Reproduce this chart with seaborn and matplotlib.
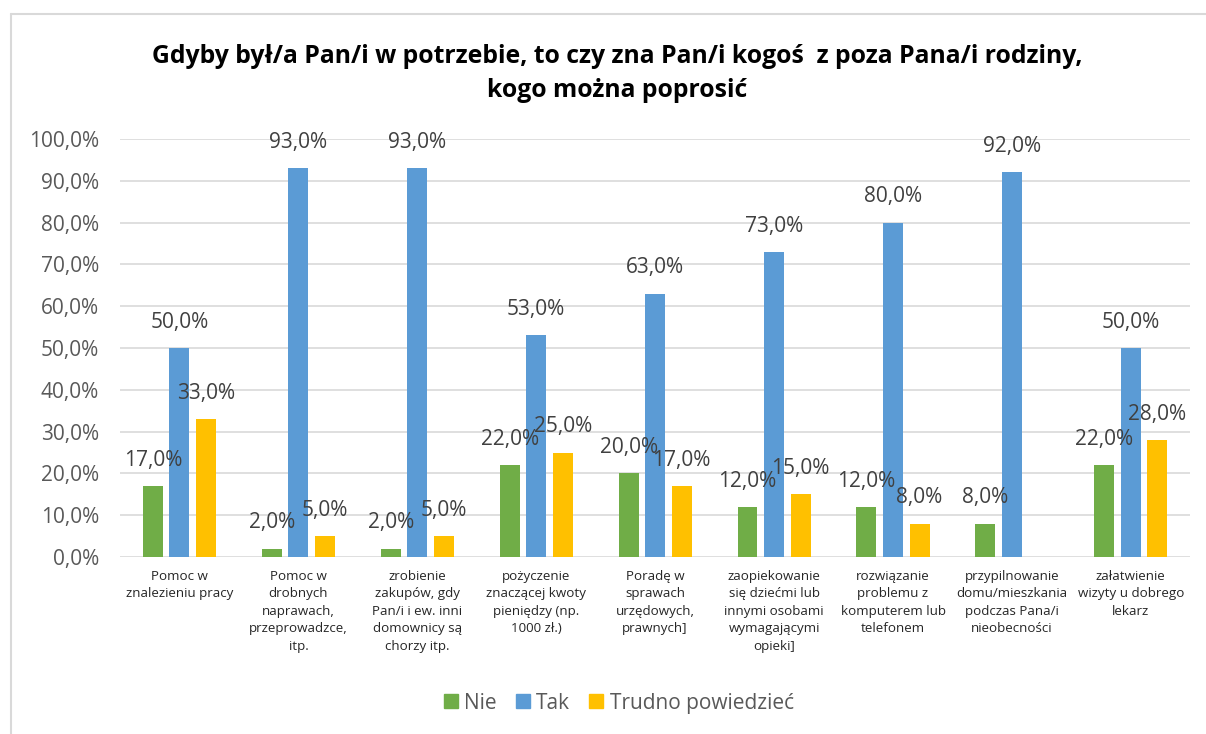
import matplotlib
matplotlib.use("Agg")
import matplotlib.pyplot as plt
from matplotlib.lines import Line2D
from matplotlib.ticker import FuncFormatter
import numpy as np
import pandas as pd
import seaborn as sns

categories = [
    "Pomoc w\nznalezieniu pracy",
    "Pomoc w\ndrobnych\nnaprawach,\nprzeprowadzce,\nitp.",
    "zrobienie\nzakupów, gdy\nPan/i i ew. inni\ndomownicy są\nchorzy itp.",
    "pożyczenie\nznaczącej kwoty\npieniędzy (np.\n1000 zł.)",
    "Poradę w\nsprawach\nurzędowych,\nprawnych]",
    "zaopiekowanie\nsię dziećmi lub\ninnymi osobami\nwymagającymi\nopieki]",
    "rozwiązanie\nproblemu z\nkomputerem lub\ntelefonem",
    "przypilnowanie\ndomu/mieszkania\npodczas Pana/i\nnieobecności",
    "załatwienie\nwizyty u dobrego\nlekarz",
]
series = ["Nie", "Tak", "Trudno powiedzieć"]
nie = [17, 2, 2, 22, 20, 12, 12, 8, 22]
tak = [50, 93, 93, 53, 63, 73, 80, 92, 50]
trudno = [33, 5, 5, 25, 17, 15, 8, np.nan, 28]
palette = ["#70AD47", "#5B9BD5", "#FFC000"]
title = "Gdyby był/a Pan/i w potrzebie, to czy zna Pan/i kogoś  z poza Pana/i rodziny,\nkogo można poprosić"

df = pd.DataFrame({
    "kategoria": categories * 3,
    "seria": sum([[s] * len(categories) for s in series], []),
    "wartosc": nie + tak + trudno,
})

sns.set_theme(style="white")
plt.rcParams["font.family"] = ["Open Sans", "DejaVu Sans"]

fig = plt.figure(figsize=(12.06, 7.34), dpi=100)
ax = fig.add_axes([0.0995, 0.2411, 0.8875, 0.5695])

sns.barplot(
    data=df, x="kategoria", y="wartosc", hue="seria",
    order=categories, hue_order=series, palette=palette,
    width=0.67, gap=0.25, saturation=1, linewidth=0, ax=ax, legend=False,
)

ax.set_ylim(0, 100)
ax.set_xlim(-0.5, len(categories) - 0.5)
ax.set_yticks(np.arange(0, 101, 10))
ax.yaxis.set_major_formatter(FuncFormatter(lambda v, _: f"{v:.1f}%".replace(".", ",")))
ax.grid(axis="y", color="#D9D9D9", linewidth=1.2)
ax.set_axisbelow(True)
for s in ax.spines.values():
    s.set_visible(False)
ax.tick_params(axis="y", labelsize=15, labelcolor="#595959", length=0, pad=15)
ax.tick_params(axis="x", labelsize=9.6, labelcolor="#262626", length=0, pad=9)
for lbl in ax.get_xticklabels():
    lbl.set_linespacing(1.45)
    lbl.set_verticalalignment("top")
ax.set_xlabel("")
ax.set_ylabel("")

for cont in ax.containers:
    labels = ["" if np.isnan(v) else f"{v:.1f}%".replace(".", ",") for v in cont.datavalues]
    ax.bar_label(cont, labels=labels, padding=11, fontsize=15, color="#404040")

handles = [Line2D([0], [0], marker="s", linestyle="", markersize=10,
                  markerfacecolor=c, markeredgecolor=c) for c in palette]
fig.legend(handles, series, loc="center", bbox_to_anchor=(0.513, 0.042), ncol=3,
           frameon=False, fontsize=15, labelcolor="#595959",
           handlelength=0.7, handletextpad=0.3, columnspacing=0.9)

fig.text(0.512, 0.9, title, ha="center", va="center", fontsize=17.8,
         fontweight="bold", color="#000000", linespacing=1.5)

# frame around the chart area
fig.add_artist(Line2D([0.0091, 0.0091], [0, 0.981], color="#D9D9D9", linewidth=1.5))
fig.add_artist(Line2D([0.0091, 1], [0.981, 0.981], color="#D9D9D9", linewidth=1.5))

fig.savefig("out.png", dpi=100)
